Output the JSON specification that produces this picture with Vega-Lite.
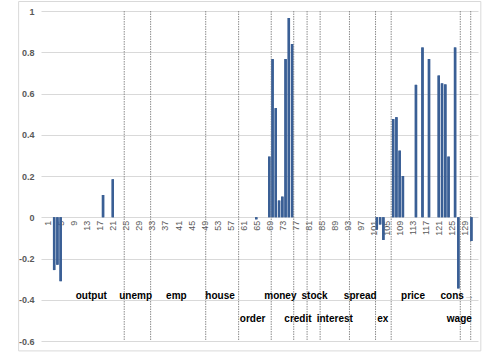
{
  "$schema": "https://vega.github.io/schema/vega-lite/v6.json",
  "width": 437,
  "height": 330,
  "autosize": "none",
  "padding": {"left": 41, "top": 11, "right": 15, "bottom": 13},
  "background": "white",
  "config": {
    "view": {"stroke": null},
    "font": "Liberation Sans",
    "axisX": {
      "labelAngle": -90,
      "labelAlign": "right",
      "labelBaseline": "middle",
      "labelPadding": 3,
      "labelFontSize": 9,
      "labelColor": "#595959",
      "labelFont": "Liberation Sans",
      "labelOverlap": false,
      "labelBound": false,
      "labelFlush": false,
      "domain": false,
      "ticks": false,
      "grid": false,
      "title": null
    },
    "axisY": {
      "labelFontSize": 9,
      "labelFontWeight": "bold",
      "labelColor": "#595959",
      "labelPadding": 7,
      "domain": false,
      "ticks": false,
      "grid": true,
      "gridColor": "#d9d9d9",
      "gridWidth": 1,
      "title": null
    }
  },
  "datasets": {
    "bars": [
      {"i": 3, "v": -0.256}, {"i": 4, "v": -0.23}, {"i": 5, "v": -0.31},
      {"i": 18, "v": 0.108}, {"i": 21, "v": 0.184},
      {"i": 65, "v": -0.01},
      {"i": 69, "v": 0.294}, {"i": 70, "v": 0.767}, {"i": 71, "v": 0.529}, {"i": 72, "v": 0.081},
      {"i": 73, "v": 0.1}, {"i": 74, "v": 0.767}, {"i": 75, "v": 0.966}, {"i": 76, "v": 0.84},
      {"i": 102, "v": -0.06}, {"i": 103, "v": -0.035}, {"i": 104, "v": -0.11},
      {"i": 107, "v": 0.476}, {"i": 108, "v": 0.485}, {"i": 109, "v": 0.323}, {"i": 110, "v": 0.2},
      {"i": 114, "v": 0.642}, {"i": 116, "v": 0.823}, {"i": 118, "v": 0.767},
      {"i": 121, "v": 0.687}, {"i": 122, "v": 0.649}, {"i": 123, "v": 0.644}, {"i": 124, "v": 0.294},
      {"i": 126, "v": 0.823}, {"i": 127, "v": -0.345}, {"i": 131, "v": -0.115}
    ],
    "dividers": [
      {"pos": 24.5}, {"pos": 32.6}, {"pos": 49.5}, {"pos": 59.6}, {"pos": 69.6}, {"pos": 76.5},
      {"pos": 80.6}, {"pos": 84.6}, {"pos": 93.6}, {"pos": 101.6}, {"pos": 106.4}, {"pos": 127.6}, {"pos": 130.8}
    ],
    "labels": [
      {"label": "output", "x": 14.4, "y": -0.38},
      {"label": "unemp", "x": 28.0, "y": -0.38},
      {"label": "emp", "x": 40.5, "y": -0.38},
      {"label": "house", "x": 53.9, "y": -0.38},
      {"label": "money", "x": 72.4, "y": -0.38},
      {"label": "stock", "x": 82.9, "y": -0.38},
      {"label": "spread", "x": 96.9, "y": -0.38},
      {"label": "price", "x": 113.1, "y": -0.38},
      {"label": "cons", "x": 125.1, "y": -0.38},
      {"label": "→", "x": 130.3, "y": -0.38},
      {"label": "order", "x": 63.9, "y": -0.495},
      {"label": "credit", "x": 77.8, "y": -0.495},
      {"label": "interest", "x": 89.1, "y": -0.495},
      {"label": "ex", "x": 103.8, "y": -0.495},
      {"label": "wage", "x": 127.3, "y": -0.495}
    ],
    "frame": [
      {"x1": -7.9, "x2": 133.9, "y1": 1.046, "y2": -0.648}
    ]
  },
  "layer": [
    {
      "data": {"name": "bars"},
      "mark": {"type": "bar", "orient": "vertical", "width": 2.4, "color": "#3a5f95"},
      "encoding": {
        "x": {
          "field": "i", "type": "quantitative",
          "scale": {"domain": [0.5, 131.5], "nice": false, "zero": false},
          "axis": {
            "values": [1, 5, 9, 13, 17, 21, 25, 29, 33, 37, 41, 45, 49, 53, 57, 61, 65, 69, 73, 77, 81, 85, 89, 93, 97, 101, 105, 109, 113, 117, 121, 125, 129],
            "tickCount": 200,
            "format": "d",
            "labelOverlap": false,
            "offset": -123.75
          }
        },
        "y": {
          "field": "v", "type": "quantitative",
          "scale": {"domain": [-0.6, 1], "nice": false},
          "axis": {
            "values": [-0.6, -0.4, -0.2, 0, 0.2, 0.4, 0.6, 0.8, 1],
            "tickCount": 20,
            "labelExpr": "(datum.value < 0 ? '-' : '') + format(abs(datum.value), '~g')"
          }
        }
      }
    },
    {
      "data": {"name": "frame"},
      "mark": {"type": "rect", "fill": null, "stroke": "#d9d9d9", "strokeWidth": 1, "clip": false},
      "encoding": {
        "x": {"field": "x1", "type": "quantitative"},
        "x2": {"field": "x2"},
        "y": {"field": "y1", "type": "quantitative"},
        "y2": {"field": "y2"}
      }
    },
    {
      "data": {"name": "dividers"},
      "mark": {"type": "rule", "color": "#8c8c8c", "strokeWidth": 1, "strokeDash": [1.5, 1]},
      "encoding": {
        "x": {"field": "pos", "type": "quantitative"},
        "y": {"datum": 1},
        "y2": {"datum": -0.6}
      }
    },
    {
      "data": {"name": "bars"},
      "mark": {"type": "bar", "orient": "vertical", "width": 2.4, "color": "#3a5f95"},
      "encoding": {
        "x": {"field": "i", "type": "quantitative"},
        "y": {"field": "v", "type": "quantitative"}
      }
    },
    {
      "data": {"name": "labels"},
      "mark": {"type": "text", "fontSize": 10, "fontWeight": "bold", "align": "center", "baseline": "middle"},
      "encoding": {
        "x": {"field": "x", "type": "quantitative"},
        "y": {"field": "y", "type": "quantitative"},
        "text": {"field": "label"},
        "color": {"condition": {"test": "datum.label === '→'", "value": "#7f7f7f"}, "value": "#000000"}
      }
    }
  ]
}
